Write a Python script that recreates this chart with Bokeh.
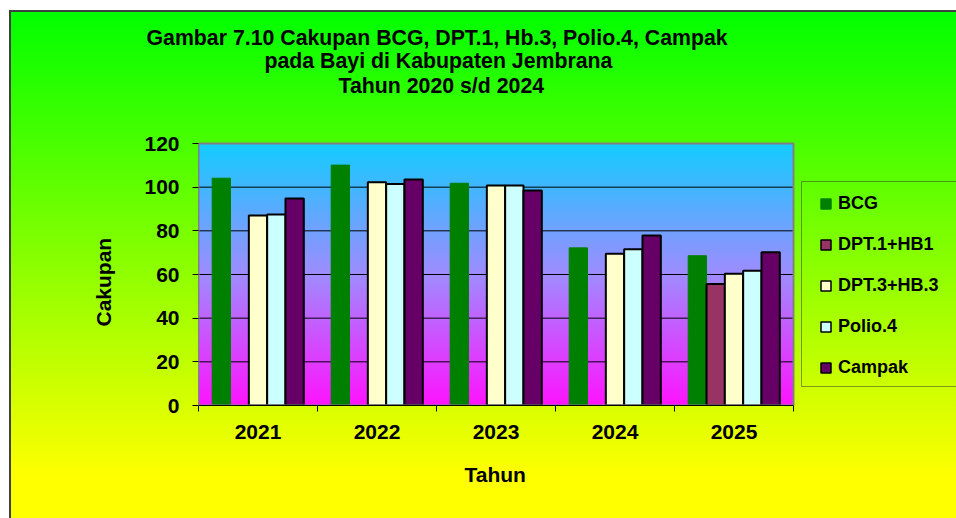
import numpy as np
from bokeh.plotting import figure
from bokeh.models import Range1d, FixedTicker, Legend, LegendItem, Title
from bokeh.embed import file_html
from bokeh.resources import INLINE

# ---------------- data ----------------
years = ["2021", "2022", "2023", "2024", "2025"]
series_names = ["BCG", "DPT.1+HB1", "DPT.3+HB.3", "Polio.4", "Campak"]
bcg = [104.1, 110.1, 101.8, 72.2, 68.6]
dpt1 = [float("nan"), float("nan"), float("nan"), float("nan"), 55.7]
dpt3 = [87.0, 102.2, 100.8, 69.5, 60.3]
polio = [87.5, 101.5, 100.8, 71.6, 61.7]
campak = [94.8, 103.5, 98.5, 77.9, 70.2]
y_ticks = [0, 20, 40, 60, 80, 100, 120]
title_lines = ["Gambar 7.10 Cakupan BCG, DPT.1, Hb.3, Polio.4, Campak",
               "pada Bayi di Kabupaten Jembrana",
               "Tahun 2020 s/d 2024"]
x_title = "Tahun"
y_title = "Cakupan"

colors = ["#008000", "#993366", "#FFFFCC", "#CCFFFF", "#660066"]
outlines = ["#008000", "black", "black", "black", "black"]
values = [bcg, dpt1, dpt3, polio, campak]

FONT = "Liberation Sans"
AX_FS = "21px"
NAN = float("nan")

# layout constants (pixels)
FIG_W, FIG_H = 947, 508
LEFT, BOTTOM, TOP = 189, 113, 87
AREA_W, AREA_H = 595, 262          # plot area size
FRAME_W, FRAME_H = FIG_W - LEFT, FIG_H - BOTTOM - TOP

n = len(years)
y_top = y_ticks[-1]
x_end = n * FRAME_W / AREA_W
y_end = y_top * FRAME_H / AREA_H

p = figure(width=FIG_W, height=FIG_H, x_range=Range1d(0, x_end), y_range=Range1d(0, y_end),
           output_backend="svg", toolbar_location=None,
           min_border_left=LEFT, min_border_right=0, min_border_top=TOP, min_border_bottom=BOTTOM,
           border_fill_color=None, background_fill_color=None, outline_line_color=None)
p.styles = {"margin-left": "9px", "margin-top": "10px",
            "background": "linear-gradient(to bottom, #00FF00 0%, #FFFF00 92%, #FFFF00 100%)",
            "box-shadow": "inset 2px 2px 0 #404040"}

# plot-area gradient (cyan top -> lavender -> magenta bottom)
N = AREA_H
t = np.linspace(0.0, 1.0, N)  # 0 = bottom, 1 = top
stops_t = [0.0, 0.5, 1.0]
stops_c = np.array([[255, 20, 255], [160, 140, 255], [20, 204, 255]])
img = np.empty((N, 1), dtype=np.uint32)
view = img.view(dtype=np.uint8).reshape((N, 1, 4))
for k in range(3):
    view[:, 0, k] = np.interp(t, stops_t, stops_c[:, k]).astype(np.uint8)
view[:, 0, 3] = 255
p.image_rgba(image=[img], x=0, y=0, dw=n, dh=y_top)

# grid lines (only across the plot area)
p.xgrid.visible = False
p.ygrid.visible = False
gy = y_ticks[1:-1]
p.segment(x0=[0] * len(gy), y0=gy, x1=[n] * len(gy), y1=gy, line_color="black", line_width=1)

# bars
w = 0.154
centers = np.arange(n) + 0.5
for i, (vals, c, lc) in enumerate(zip(values, colors, outlines)):
    xs = centers + (i - 2) * w
    p.vbar(x=xs, top=vals, bottom=0, width=w, fill_color=c, line_color=lc,
           line_width=1 if i == 0 else 2)

# plot-area border
p.quad(left=[0], right=[n], bottom=[0], top=[y_top], fill_color=None,
       line_color="#808080", line_width=2)

# axes
p.yaxis.bounds = (0, y_top)
p.yaxis.ticker = FixedTicker(ticks=y_ticks)
p.yaxis.major_tick_out = 6
p.yaxis.major_tick_in = 0
p.yaxis.minor_tick_out = 0
p.yaxis.minor_tick_in = 0
p.yaxis.major_tick_line_color = "black"
p.yaxis.axis_line_color = "#808080"
p.yaxis.major_label_standoff = 13

p.xaxis.bounds = (0, n)
p.xaxis.ticker = FixedTicker(ticks=list(centers), minor_ticks=list(range(n + 1)))
p.xaxis.major_label_overrides = {float(c): y for c, y in zip(centers, years)}
p.xaxis.major_tick_out = 0
p.xaxis.major_tick_in = 0
p.xaxis.minor_tick_out = 6
p.xaxis.minor_tick_in = 0
p.xaxis.minor_tick_line_color = "black"
p.xaxis.axis_line_color = "black"
p.xaxis.major_label_standoff = 13

for ax in (p.xaxis[0], p.yaxis[0]):
    ax.major_label_text_font = FONT
    ax.major_label_text_font_style = "bold"
    ax.major_label_text_font_size = AX_FS
    ax.major_label_text_color = "black"

# axis titles (as side-panel titles so they centre on the plot area)
p.add_layout(Title(text=y_title, align="left", offset=79, standoff=54,
                   text_font=FONT, text_font_style="bold", text_font_size=AX_FS,
                   text_color="black"), "left")
p.add_layout(Title(text=x_title, align="left", offset=266, vertical_align="top", standoff=42,
                   text_font=FONT, text_font_style="bold", text_font_size=AX_FS,
                   text_color="black"), "below")

# chart title: three lines stacked above the frame (last line nearest the frame)
title_offsets = [-52, 66, 140]
title_standoffs = [-3, -3, 0]
for txt, off, so in reversed(list(zip(title_lines, title_offsets, title_standoffs))):
    p.add_layout(Title(text=txt, align="left", offset=off, standoff=so,
                       text_font=FONT, text_font_style="bold", text_font_size="21.3px",
                       text_color="black"), "above")

# legend frame (box only)
rb = p.vbar(x=[NAN], top=[NAN], width=0.1, fill_alpha=0, line_alpha=0)
box_legend = Legend(items=[LegendItem(label=" ", renderers=[rb])], location=(603, 18),
                    margin=0, padding=0, spacing=0, glyph_width=10, glyph_height=204,
                    label_height=204, label_width=220, label_standoff=0,
                    label_text_font_size="1px",
                    border_line_color="#333333", border_line_width=1,
                    background_fill_alpha=0)
p.add_layout(box_legend, "center")

# legend items (square markers)
items = []
for name, c, lc in zip(series_names, colors, outlines):
    r = p.scatter(x=[NAN], y=[NAN], marker="square", fill_color=c, line_color=lc, line_width=1.5)
    items.append(LegendItem(label=name, renderers=[r]))
legend = Legend(items=items, location=(615, 25), orientation="vertical", margin=0,
                padding=0, spacing=16, glyph_width=25, glyph_height=25,
                label_height=25, label_standoff=0,
                label_text_font=FONT, label_text_font_style="bold",
                label_text_font_size="18px", label_text_color="black",
                border_line_color=None, background_fill_alpha=0)
p.add_layout(legend, "center")

open("out.html", "w").write(file_html(p, INLINE))
